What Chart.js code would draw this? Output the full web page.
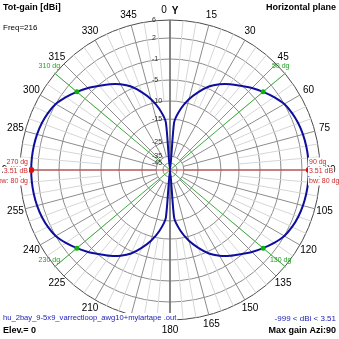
<!DOCTYPE html>
<html>
<head>
<meta charset="utf-8">
<script src="https://cdn.jsdelivr.net/npm/chart.js@4"></script>
<style>
  html, body { margin: 0; padding: 0; background: #fff; }
</style>
</head>
<body>
<canvas id="pattern" width="339" height="339"></canvas>
<script>
// Azimuth (compass style: 0 at top, clockwise), 5 degree steps
const azimuths = [
  0, 5, 10, 15, 20, 25, 30, 35, 40, 45, 50, 55, 60, 65, 70, 75, 80, 85,
  90, 95, 100, 105, 110, 115, 120, 125, 130, 135, 140, 145, 150, 155, 160, 165, 170, 175,
  180, 185, 190, 195, 200, 205, 210, 215, 220, 225, 230, 235, 240, 245, 250, 255, 260, 265,
  270, 275, 280, 285, 290, 295, 300, 305, 310, 315, 320, 325, 330, 335, 340, 345, 350, 355
];
// Total gain in dBi at each azimuth
const gainDbi = [
  -60, -16.3, -11.9, -9.0, -6.7, -4.6, -3.3, -2.2, -1.2, -0.3, 0.51, 1.3, 2.0, 2.6, 3.0, 3.25, 3.4, 3.48,
  3.51, 3.48, 3.4, 3.25, 3.0, 2.6, 2.0, 1.3, 0.51, -0.3, -1.2, -2.2, -3.3, -4.6, -6.7, -9.0, -11.9, -16.3,
  -60, -16.3, -11.9, -9.0, -6.7, -4.6, -3.3, -2.2, -1.2, -0.3, 0.51, 1.3, 2.0, 2.6, 3.0, 3.25, 3.4, 3.48,
  3.51, 3.48, 3.4, 3.25, 3.0, 2.6, 2.0, 1.3, 0.51, -0.3, -1.2, -2.2, -3.3, -4.6, -6.7, -9.0, -11.9, -16.3
];

// log gain scale: ring values and where each ring sits (share of the outer radius)
const ringDb = [6, 2, -1, -5, -10, -15, -25, -35, -45];
const ringPos = [1, 0.88, 0.74, 0.6, 0.46, 0.34, 0.187, 0.093, 0.047];

const compassStep = 15;
const maxAzimuths = [90, 270];
const maxGain = 3.51;
const beamEdges = [50, 130, 230, 310];
const beamwidth = 80;

const FONT = '"Liberation Sans", Arial, sans-serif';

function gainToRadius(db) {
  if (db >= ringDb[0]) return 1;
  for (let i = 0; i < ringDb.length - 1; i++) {
    if (db >= ringDb[i + 1]) {
      const t = (db - ringDb[i + 1]) / (ringDb[i] - ringDb[i + 1]);
      return ringPos[i + 1] + t * (ringPos[i] - ringPos[i + 1]);
    }
  }
  // below the last ring, run down to the centre at -60
  const last = ringPos[ringPos.length - 1];
  return Math.max(0, last * (db + 60) / 15);
}

function markerRadius(az) {
  if (maxAzimuths.includes(az)) return 3;
  if (beamEdges.includes(az)) return 2.5;
  return 0;
}
function markerColor(az) {
  return maxAzimuths.includes(az) ? '#e01010' : '#10b010';
}

function label(ctx, str, x, y, opts) {
  ctx.font = opts.font;
  ctx.textAlign = opts.align || 'center';
  ctx.textBaseline = 'middle';
  if (opts.bg) {
    const w = ctx.measureText(str).width;
    let left = x - w / 2;
    if (ctx.textAlign === 'left') left = x;
    if (ctx.textAlign === 'right') left = x - w;
    ctx.fillStyle = '#fff';
    ctx.fillRect(left - 1, y - opts.bg / 2, w + 2, opts.bg);
  }
  ctx.fillStyle = opts.color || '#000';
  ctx.fillText(str, x, y);
}

const polarDecor = {
  id: 'polarDecor',
  beforeDatasetsDraw(chart) {
    const r = chart.scales.r;
    const ctx = chart.ctx;
    ctx.save();
    // spokes: dark every 15 degrees, light ones between
    azimuths.forEach((az, i) => {
      const major = az % compassStep === 0;
      const a = r.getPointPositionForValue(i, gainToRadius(major ? -35 : -10));
      const b = r.getPointPositionForValue(i, 1);
      ctx.strokeStyle = major ? '#8c8c8c' : '#d6d6d6';
      ctx.lineWidth = 1;
      ctx.beginPath();
      ctx.moveTo(a.x, a.y);
      ctx.lineTo(b.x, b.y);
      ctx.stroke();
    });
    // 0-180 axis
    const top = r.getPointPositionForValue(0, 1);
    const bottom = r.getPointPositionForValue(azimuths.indexOf(180), 1);
    ctx.strokeStyle = '#707070';
    ctx.lineWidth = 1.5;
    ctx.beginPath();
    ctx.moveTo(top.x, top.y);
    ctx.lineTo(bottom.x, bottom.y);
    ctx.stroke();
    // -3 dB beam edges
    ctx.strokeStyle = '#3cac3c';
    ctx.lineWidth = 1;
    beamEdges.forEach(az => {
      const p = r.getPointPosition(azimuths.indexOf(az), r.drawingArea + 1);
      ctx.beginPath();
      ctx.moveTo(r.xCenter, r.yCenter);
      ctx.lineTo(p.x, p.y);
      ctx.stroke();
    });
    // line through the two maxima
    const m0 = r.getPointPositionForValue(azimuths.indexOf(maxAzimuths[0]), gainToRadius(maxGain));
    const m1 = r.getPointPositionForValue(azimuths.indexOf(maxAzimuths[1]), gainToRadius(maxGain));
    ctx.strokeStyle = '#cc3a3a';
    ctx.beginPath();
    ctx.moveTo(m1.x, m1.y);
    ctx.lineTo(m0.x, m0.y);
    ctx.stroke();
    ctx.restore();
  },
  afterDraw(chart) {
    const r = chart.scales.r;
    const ctx = chart.ctx;
    ctx.save();
    // compass labels
    azimuths.forEach((az, i) => {
      if (az % compassStep !== 0) return;
      const p = r.getPointPosition(i, r.drawingArea + 10);
      const x = az === 0 ? p.x - 6 : p.x;
      label(ctx, String(az), x, p.y, { font: '10px ' + FONT, color: '#000' });
    });
    label(ctx, 'Y', r.xCenter + 5, r.yCenter - r.drawingArea - 9, { font: 'bold 10px ' + FONT, color: '#000' });
    // ring labels up the 0 axis
    ringDb.forEach((db, i) => {
      const y = r.yCenter - r.getDistanceFromCenterForValue(ringPos[i]);
      label(ctx, String(db), r.xCenter - 18, y, { font: '7px ' + FONT, color: '#303030', align: 'left' });
    });
    // beam edge tags
    beamEdges.forEach(az => {
      const p = r.getPointPosition(azimuths.indexOf(az), r.drawingArea + 1);
      label(ctx, az + ' dg', p.x - 5, p.y - 7, { font: '7px ' + FONT, color: '#20a020' });
    });
    // maximum tags
    const tagLines = az => [az + ' dg', maxGain + ' dB', 'bw: ' + beamwidth + ' dg'];
    const red = '#cc2a2a';
    tagLines(maxAzimuths[1]).forEach((s, k) => {
      label(ctx, s, 28, r.yCenter - 8 + k * 9.5, { font: '7px ' + FONT, color: red, align: 'right', bg: 9 });
    });
    tagLines(maxAzimuths[0]).forEach((s, k) => {
      label(ctx, s, 309, r.yCenter - 8 + k * 9.5, { font: '7px ' + FONT, color: red, align: 'left', bg: 9 });
    });
    // headers
    label(ctx, 'Tot-gain [dBi]', 3, 8, { font: 'bold 9px ' + FONT, align: 'left' });
    label(ctx, 'Horizontal plane', 336, 8, { font: 'bold 9px ' + FONT, align: 'right' });
    label(ctx, 'Freq=216', 3, 28, { font: '8px ' + FONT, align: 'left' });
    // footer: file name line and elevation line on white boxes
    const fileName = 'hu_2bay_9-5x9_varrectloop_awg10+mylartape .out';
    ctx.fillStyle = '#fff';
    ctx.fillRect(0, 321, 140, 18);
    label(ctx, fileName, 3, 318, { font: '7.6px ' + FONT, color: '#1a1ab4', align: 'left', bg: 10 });
    label(ctx, '-999 < dBi < ' + maxGain, 336, 319, { font: '8px ' + FONT, color: '#1a1ab4', align: 'right' });
    label(ctx, 'Elev.= 0', 3, 331, { font: 'bold 9px ' + FONT, align: 'left' });
    label(ctx, 'Max gain Azi:' + maxAzimuths[0], 336, 331, { font: 'bold 9px ' + FONT, align: 'right' });
    ctx.restore();
  }
};

new Chart(document.getElementById('pattern'), {
  type: 'radar',
  data: {
    labels: azimuths.map(String),
    datasets: [{
      data: gainDbi.map(gainToRadius),
      borderColor: '#0e0e9e',
      borderWidth: 2,
      fill: false,
      tension: 0.2,
      pointRadius: c => markerRadius(azimuths[c.dataIndex]),
      pointBackgroundColor: c => markerColor(azimuths[c.dataIndex]),
      pointBorderWidth: 0
    }]
  },
  options: {
    responsive: false,
    animation: false,
    layout: { padding: { left: 20, right: 19, top: 20, bottom: 19 } },
    plugins: { legend: { display: false }, tooltip: { enabled: false } },
    scales: {
      r: {
        min: 0,
        max: 1,
        afterBuildTicks: axis => {
          axis.ticks = [0].concat(ringPos.slice().reverse()).map(v => ({ value: v }));
        },
        ticks: { display: false },
        pointLabels: { display: false },
        angleLines: { display: false },
        grid: {
          circular: true,
          color: c => (c.tick && c.tick.value === 1 ? '#4a4a4a' : '#8c8c8c'),
          lineWidth: 1
        }
      }
    }
  },
  plugins: [polarDecor]
});
</script>
</body>
</html>
